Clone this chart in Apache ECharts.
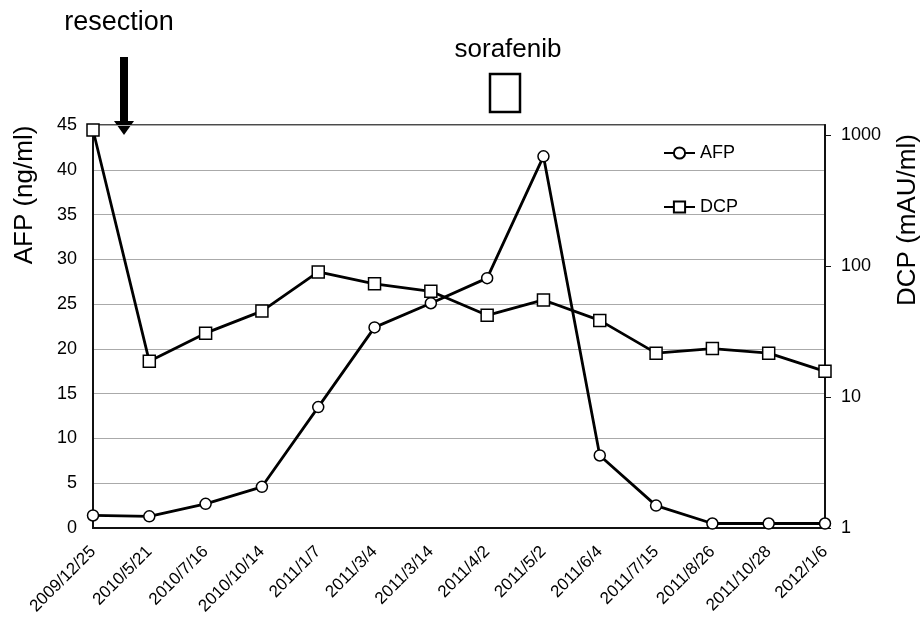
<!DOCTYPE html>
<html>
<head>
<meta charset="utf-8">
<script src="https://cdn.jsdelivr.net/npm/echarts@6/dist/echarts.min.js"></script>
<style>
html,body{margin:0;padding:0;background:#fff;}
#main{width:923px;height:618px;}
</style>
</head>
<body>
<div id="main"></div>
<script>
var categories = ['2009/12/25','2010/5/21','2010/7/16','2010/10/14','2011/1/7','2011/3/4','2011/3/14','2011/4/2','2011/5/2','2011/6/4','2011/7/15','2011/8/26','2011/10/28','2012/1/6'];
var afpValues = [1.4, 1.3, 2.7, 4.6, 13.5, 22.4, 25.1, 27.9, 41.5, 8.1, 2.5, 0.5, 0.5, 0.5];
var dcpValues = [1090, 18.7, 30.7, 45.2, 90, 73, 64, 42, 55, 38.4, 21.6, 23.4, 21.6, 15.7];
var afpTicks = {min: 0, max: 45, interval: 5};
var dcpTicks = {min: 1, max: 1190};

var FONT = '"Liberation Sans", Arial, sans-serif';
var chart = echarts.init(document.getElementById('main'), null, {renderer: 'canvas'});
var option = {
  backgroundColor: '#fff',
  animation: false,
  textStyle: {fontFamily: FONT, color: '#000'},
  grid: {left: 93, right: 98, top: 125, bottom: 90, show: true, borderColor: '#111', borderWidth: 1.5, containLabel: false},
  legend: {
    orient: 'vertical', left: 658, top: 139, itemWidth: 31, itemHeight: 14, itemGap: 36,
    textStyle: {fontSize: 18, color: '#000', fontFamily: FONT},
    data: ['AFP', 'DCP']
  },
  xAxis: {
    type: 'category', data: categories, boundaryGap: false,
    axisLine: {show: true, lineStyle: {color: '#111', width: 2}},
    axisTick: {show: false},
    axisLabel: {rotate: 45, fontSize: 17, color: '#000', margin: 21, interval: 0, fontFamily: FONT}
  },
  yAxis: [
    {
      type: 'value', min: afpTicks.min, max: afpTicks.max, interval: afpTicks.interval, position: 'left',
      axisLine: {show: true, lineStyle: {color: '#111', width: 2}},
      axisTick: {show: false},
      axisLabel: {fontSize: 18, color: '#000', margin: 16, fontFamily: FONT},
      splitLine: {show: true, lineStyle: {color: '#aaa', width: 1.2}}
    },
    {
      type: 'log', logBase: 10, min: dcpTicks.min, max: dcpTicks.max, position: 'right',
      axisLine: {show: true, lineStyle: {color: '#111', width: 2}},
      axisTick: {show: true, inside: false, length: 6, lineStyle: {color: '#111'}},
      axisLabel: {fontSize: 18, color: '#000', margin: 16, fontFamily: FONT, showMaxLabel: false,
        formatter: function (v) { return String(Math.round(v)); }},
      splitLine: {show: false}
    }
  ],
  series: [
    {
      name: 'AFP', type: 'line', yAxisIndex: 0, data: afpValues,
      symbol: 'circle', symbolSize: 11,
      lineStyle: {color: '#000', width: 2.8},
      itemStyle: {color: '#fff', borderColor: '#000', borderWidth: 1.5},
      z: 3
    },
    {
      name: 'DCP', type: 'line', yAxisIndex: 1, data: dcpValues,
      symbol: 'rect', symbolSize: 12,
      lineStyle: {color: '#000', width: 2.8},
      itemStyle: {color: '#fff', borderColor: '#000', borderWidth: 1.5},
      z: 2
    }
  ],
  graphic: [
    {type: 'text', x: 119, y: 23, style: {text: 'resection', font: '27px ' + FONT, fill: '#000', align: 'center', verticalAlign: 'middle'}},
    {type: 'rect', shape: {x: 120, y: 57, width: 8, height: 66}, style: {fill: '#000'}},
    {type: 'polygon', shape: {points: [[114, 121], [134, 121], [124, 135]]}, style: {fill: '#000'}},
    {type: 'text', x: 508, y: 50, style: {text: 'sorafenib', font: '26px ' + FONT, fill: '#000', align: 'center', verticalAlign: 'middle'}},
    {type: 'rect', shape: {x: 490, y: 74, width: 30, height: 38}, style: {fill: '#fff', stroke: '#000', lineWidth: 2.5}},
    {type: 'text', x: 25, y: 195, rotation: Math.PI / 2, style: {text: 'AFP (ng/ml)', font: '26px ' + FONT, fill: '#000', align: 'center', verticalAlign: 'middle'}},
    {type: 'text', x: 908, y: 220, rotation: Math.PI / 2, style: {text: 'DCP (mAU/ml)', font: '26px ' + FONT, fill: '#000', align: 'center', verticalAlign: 'middle'}}
  ]
};
chart.setOption(option);
</script>
</body>
</html>
